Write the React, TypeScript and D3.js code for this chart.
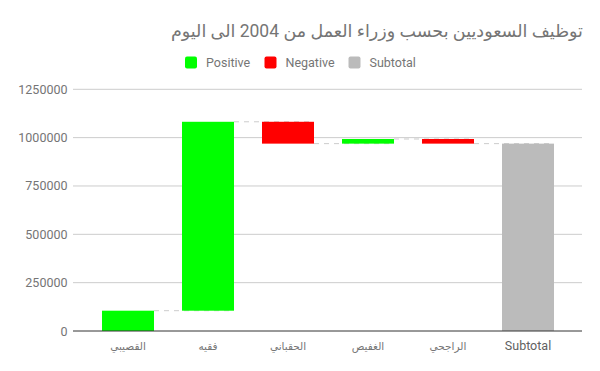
import React from 'react';
import * as d3 from 'd3';

const TITLE = 'توظيف السعوديين بحسب وزراء العمل من 2004 الى اليوم';
const categories = ['القصيبي', 'فقيه', 'الحقباني', 'الغفيص', 'الراجحي'];
const deltas = [105000, 977000, -113000, 24000, -24000];
const subtotalLabel = 'Subtotal';
const yTicks = [0, 250000, 500000, 750000, 1000000, 1250000];
const legendItems = ['Positive', 'Negative', 'Subtotal'];
const legendColors = ['#00ff00', '#ff0000', '#bbbbbb'];

const W = 600, H = 371;
const FONT = 'Roboto, "Noto Sans", "DejaVu Sans", sans-serif';

export default function App() {
  const allCats = [...categories, subtotalLabel];
  const x = d3.scaleBand<string>().domain(allCats).range([88, 568]).paddingInner(0.35).paddingOuter(0.175);
  const y = d3.scaleLinear().domain([0, 1250000]).range([331, 89.3]);

  let run = 0;
  const bars = deltas.map((d, i) => {
    const start = run;
    run += d;
    return { cat: categories[i], start, end: run, color: d >= 0 ? legendColors[0] : legendColors[1] };
  });
  const total = run;
  const allBars = [...bars, { cat: subtotalLabel, start: 0, end: total, color: legendColors[2] }];

  const connectors = allBars.slice(1).map((b, i) => {
    const prev = allBars[i];
    return { x1: (x(prev.cat) as number) + x.bandwidth(), x2: (x(b.cat) as number) + x.bandwidth(), yv: prev.end };
  });

  const legendX = [185, 264.5, 348.5];

  return (
    <svg width={W} height={H} style={{ position: 'absolute', left: 0, top: 0, fontFamily: FONT }}>
      <rect width={W} height={H} fill="#fff" />
      <text x={583} y={37} fontSize={17.5} fill="#757575" direction="rtl" textAnchor="start">{TITLE}</text>
      {legendItems.map((l, i) => (
        <g key={l}>
          <rect x={legendX[i]} y={56.5} width={12} height={12} rx={2} fill={legendColors[i]} />
          <text x={legendX[i] + 21} y={67} fontSize={12.5} fill="#757575">{l}</text>
        </g>
      ))}
      {yTicks.map(t => (
        <g key={t}>
          {t !== 0 && <line x1={73} x2={582} y1={y(t)} y2={y(t)} stroke="#cccccc" strokeWidth={1} />}
          <text x={67.5} y={y(t) + 4.5} fontSize={12.5} fill="#757575" textAnchor="end">{t}</text>
        </g>
      ))}
      {connectors.map((c, i) => (
        <line key={i} x1={c.x1} x2={c.x2} y1={y(c.yv)} y2={y(c.yv)} stroke="#cccccc" strokeDasharray="5,5" strokeWidth={1} />
      ))}
      {allBars.map(b => (
        <rect key={b.cat} x={x(b.cat)} width={x.bandwidth()} y={y(Math.max(b.start, b.end))}
          height={Math.abs(y(b.start) - y(b.end))} fill={b.color} />
      ))}
      <line x1={73} x2={582} y1={331} y2={331} stroke="#333333" strokeWidth={1} />
      {allCats.map(c => (
        <text key={c} x={(x(c) as number) + x.bandwidth() / 2} y={350} fontSize={c === subtotalLabel ? 12.5 : 10.5}
          fill={c === subtotalLabel ? '#616161' : '#757575'} textAnchor="middle">{c}</text>
      ))}
    </svg>
  );
}
